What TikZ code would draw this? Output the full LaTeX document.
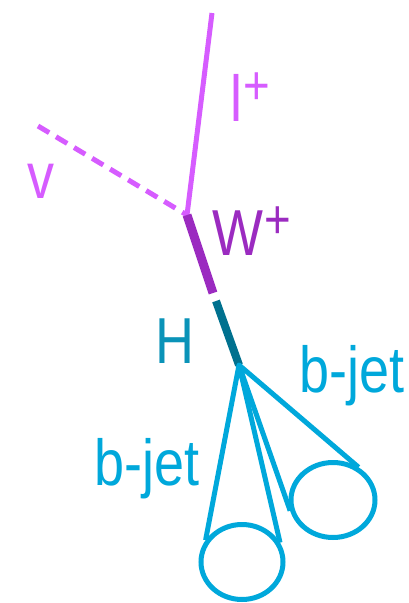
\documentclass[tikz,border=0pt]{standalone}
\usepackage{fontspec}
\newfontfamily\lblfont[FakeStretch=0.83]{Liberation Sans}
\usetikzlibrary{shapes.geometric}
\definecolor{lepcol}{RGB}{214,92,255}
\definecolor{wcol}{RGB}{155,43,192}
\definecolor{hlinecol}{RGB}{0,113,143}
\definecolor{htextcol}{RGB}{10,147,184}
\definecolor{jetcol}{RGB}{0,168,219}
\newcommand{\chgplus}{\kern1pt\raisebox{17pt}{\fontsize{55}{55}\selectfont +}}

\begin{document}
\begin{tikzpicture}[x=1pt,y=-1pt,
  lbl/.style={font=\lblfont\fontsize{65}{78}\selectfont, inner sep=0pt, anchor=base west},
  lep/.style={lepcol, line width=5pt},
  jet/.style={jetcol, line width=5pt, line join=round},
  cone/.style={draw=jetcol, line width=5pt, ellipse, inner sep=0pt, minimum height=75pt}]
\useasboundingbox (0,0) rectangle (409,603);
\coordinate (lep) at (212,13);
\coordinate (nu) at (38,126);
\coordinate (wv) at (187,215);
\coordinate (wb) at (213,293);
\coordinate (ht) at (216,301);
\coordinate (hv) at (239,365);
\node[cone, minimum width=82pt] (jet1) at (242,562) {};
\node[cone, minimum width=84pt] (jet2) at (333,500) {};
\draw[lep] (wv) -- (lep);
\draw[lep, dash pattern=on 13pt off 8pt] (nu) -- (wv);
\draw[wcol, line width=9pt] (wv) -- (wb);
\draw[hlinecol, line width=8pt] (ht) -- (hv);
\draw[jet] (jet1.149) -- (hv) -- (jet1.27);
\draw[jet] (jet2.194) -- (hv) -- (jet2.52);
\node[lbl, text=lepcol] (lplus) at (230,121) {l\chgplus};
\node[lbl, text=lepcol] (nulbl) at (27,198) {v};
\node[lbl, text=wcol] (wplus) at (212,255) {W\chgplus};
\node[lbl, text=htextcol] (hlbl) at (155,363) {H};
\node[lbl, text=jetcol] (bjet1) at (94,485) {b-jet};
\node[lbl, text=jetcol] (bjet2) at (299,392) {b-jet};
\end{tikzpicture}
\end{document}
